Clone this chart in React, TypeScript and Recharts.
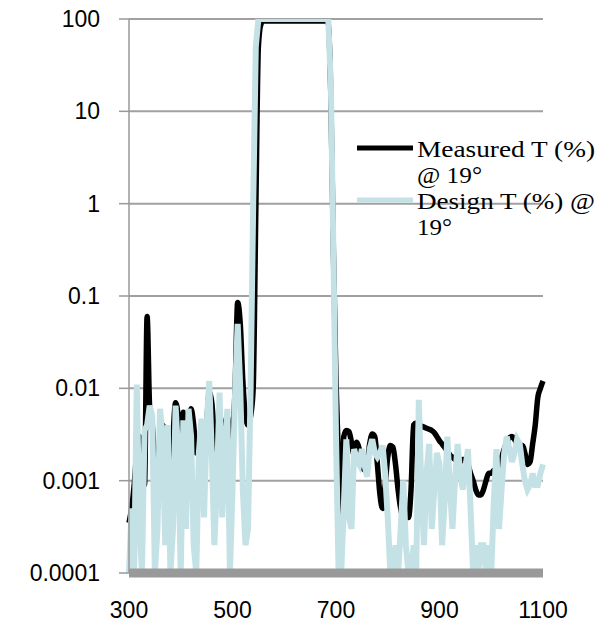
import { LineChart, Line, XAxis, YAxis, CartesianGrid } from 'recharts';

// wavelength (nm)
const wavelengths = [
  300, 305, 310, 315, 320, 325, 330, 335, 340, 345, 350, 355, 360, 365, 370, 375, 380, 385, 390, 395,
  400, 405, 410, 415, 420, 425, 430, 435, 440, 445, 450, 455, 460, 465, 470, 475, 480, 485, 490, 495,
  500, 505, 510, 515, 520, 525, 530, 535, 540, 545, 550, 555, 560, 565, 570, 575, 580, 585, 590, 595,
  600, 605, 610, 615, 620, 625, 630, 635, 640, 645, 650, 655, 660, 665, 670, 675, 680, 685, 690, 695,
  700, 705, 710, 715, 720, 725, 730, 735, 740, 745, 750, 755, 760, 765, 770, 775, 780, 785, 790, 795,
  800, 805, 810, 815, 820, 825, 830, 835, 840, 845, 850, 855, 860, 865, 870, 875, 880, 885, 890, 895,
  900, 905, 910, 915, 920, 925, 930, 935, 940, 945, 950, 955, 960, 965, 970, 975, 980, 985, 990, 995,
  1000, 1005, 1010, 1015, 1020, 1025, 1030, 1035, 1040, 1045, 1050, 1055, 1060, 1065, 1070, 1075, 1080, 1085, 1090, 1095,
  1100,
];

const measured = [
  0.00035, 0.0005, 0.0009, 0.002, 0.003, 0.001, 0.0009, 0.06, 0.006, 0.004, 0.0015, 0.0005, 0.002, 0.004, 0.003, 0.002, 0.001, 0.003, 0.007, 0.005,
  0.002, 0.0055, 0.004, 0.004, 0.006, 0.004, 0.002, 0.002, 0.003, 0.002, 0.004, 0.009, 0.007, 0.003, 0.002, 0.005, 0.004, 0.003, 0.005, 0.003,
  0.003, 0.01, 0.085, 0.05, 0.012, 0.005, 0.004, 0.005, 0.01, 0.8, 50, 88, 95, 95, 95, 95, 95, 95, 95, 95,
  95, 95, 95, 95, 95, 95, 95, 95, 95, 95, 95, 95, 95, 95, 95, 95, 95, 90, 15, 0.3,
  0.012, 0.0015, 0.0004, 0.003, 0.0035, 0.0034, 0.0026, 0.0019, 0.0026, 0.0022, 0.0015, 0.0013, 0.0015, 0.0025, 0.0032, 0.003, 0.0015, 0.0007, 0.0005, 0.0009,
  0.0018, 0.0024, 0.0023, 0.0015, 0.0008, 0.0005, 0.0004, 0.0004, 0.0004, 0.0008, 0.004, 0.0042, 0.004, 0.0039, 0.0038, 0.0037, 0.0036, 0.0035, 0.0033, 0.003,
  0.0027, 0.0025, 0.0023, 0.0021, 0.0019, 0.0018, 0.0017, 0.0016, 0.0016, 0.0017, 0.0017, 0.0015, 0.0012, 0.001, 0.0008, 0.0007, 0.0007, 0.0008, 0.001, 0.0012,
  0.0012, 0.0013, 0.0013, 0.0015, 0.0018, 0.0022, 0.0026, 0.0029, 0.003, 0.0028, 0.0025, 0.0023, 0.0024, 0.002, 0.0015, 0.0016, 0.0025, 0.004, 0.008, 0.01,
  0.012,
];

const design = [
  0.0001, 0.0005, 0.0001, 0.011, 0.0004, 0.0001, 0.0035, 0.004, 0.0065, 0.005, 0.0001, 0.0003, 0.006, 0.003, 0.0002, 0.004, 0.0001, 0.0003, 0.0065, 0.002,
  0.0001, 0.0045, 0.0003, 0.006, 0.003, 0.0002, 0.0001, 0.002, 0.0047, 0.0004, 0.004, 0.012, 0.002, 0.0002, 0.001, 0.009, 0.0004, 0.002, 0.006, 0.0001,
  0.0008, 0.009, 0.05, 0.01, 0.0008, 0.0002, 0.0003, 0.01, 1, 50, 100, 100, 100, 100, 100, 100, 100, 100, 100, 100,
  100, 100, 100, 100, 100, 100, 100, 100, 100, 100, 100, 100, 100, 100, 100, 100, 100, 100, 20, 0.3,
  0.003, 0.0001, 0.0001, 0.0005, 0.0028, 0.0004, 0.0003, 0.0022, 0.0017, 0.0015, 0.0022, 0.0015, 0.0011, 0.0022, 0.0028, 0.002, 0.0018, 0.002, 0.0024, 0.0012,
  0.0004, 0.0001, 0.0001, 0.0002, 0.0001, 0.0003, 0.001, 0.0002, 0.0001, 0.0001, 0.0002, 0.0001, 0.0075, 0.0008, 0.0002, 0.0012, 0.0025, 0.0003, 0.0008, 0.002,
  0.0015, 0.0002, 0.0006, 0.003, 0.0009, 0.0003, 0.001, 0.0025, 0.0012, 0.0008, 0.0014, 0.0022, 0.0005, 0.0001, 0.0002, 0.0001, 0.0002, 0.0002, 0.0001, 0.0002,
  0.0001, 0.0006, 0.0022, 0.0003, 0.0008, 0.002, 0.003, 0.0022, 0.0016, 0.002, 0.0028, 0.0025, 0.0015, 0.001, 0.0008, 0.0009, 0.0012, 0.0009, 0.0009, 0.0012,
  0.0015,
];

const xTicks = [300, 500, 700, 900, 1100];
const yTicks = [0.0001, 0.001, 0.01, 0.1, 1, 10, 100];

const COLORS = {
  measured: '#000000',
  design: '#c4e2e6',
  grid: '#a0a0a0',
  axis: '#999999',
};

const chartData = wavelengths.map((wl, i) => ({
  wl,
  measured: measured[i],
  design: design[i],
}));

const legendItems = [
  { lines: ['Measured T (%)', '@ 19°'], widths: [178, 65], color: COLORS.measured },
  { lines: ['Design T (%) @', '19°'], widths: [178, 35], color: COLORS.design },
];

// legend sits on top of the plot, like the original
function LegendBox() {
  return (
    <svg width={260} height={115} style={{ position: 'absolute', left: 350, top: 130 }}>
      {legendItems.map((item, i) => {
        const top = i * 52;
        return (
          <g key={item.lines[0]}>
            <line x1={7} x2={63} y1={top + 18} y2={top + 18} stroke={item.color} strokeWidth={5} />
            {item.lines.map((t, j) => (
              <text
                key={t}
                x={67}
                y={top + 27 + j * 26}
                fontFamily="'Liberation Serif', 'Times New Roman', serif"
                fontSize={24}
                fill="#000"
                textLength={item.widths[j]}
                lengthAdjust="spacingAndGlyphs"
              >
                {t}
              </text>
            ))}
          </g>
        );
      })}
    </svg>
  );
}

export default function App() {
  return (
    <div style={{ position: 'absolute', left: 0, top: 0, width: 610, height: 625, background: '#fff' }}>
      <LineChart width={610} height={625} data={chartData} margin={{ top: 19, right: 67, bottom: 0, left: 0 }}>
        <CartesianGrid vertical={false} stroke={COLORS.grid} strokeWidth={2} />
        <Line
          dataKey="measured"
          type="monotone"
          stroke={COLORS.measured}
          strokeWidth={5.5}
          dot={false}
          isAnimationActive={false}
        />
        <Line
          dataKey="design"
          type="linear"
          stroke={COLORS.design}
          strokeWidth={6}
          dot={false}
          isAnimationActive={false}
        />
        <XAxis
          dataKey="wl"
          type="number"
          domain={[300, 1100]}
          ticks={xTicks}
          height={52}
          axisLine={{ stroke: COLORS.axis, strokeWidth: 9 }}
          tickLine={false}
          tickSize={0}
          tickMargin={29}
          tick={{ fill: '#000', fontSize: 23, fontFamily: "'Liberation Sans', Arial, sans-serif" }}
        />
        <YAxis
          scale="log"
          domain={[0.0001, 100]}
          ticks={yTicks}
          allowDataOverflow
          width={129}
          axisLine={{ stroke: COLORS.axis, strokeWidth: 1.5 }}
          tickLine={{ stroke: COLORS.axis, strokeWidth: 1.5 }}
          tickSize={10}
          tickMargin={19}
          tickFormatter={(v: number) => String(v)}
          tick={{ fill: '#000', fontSize: 23, fontFamily: "'Liberation Sans', Arial, sans-serif" }}
        />
      </LineChart>
      <LegendBox />
    </div>
  );
}
